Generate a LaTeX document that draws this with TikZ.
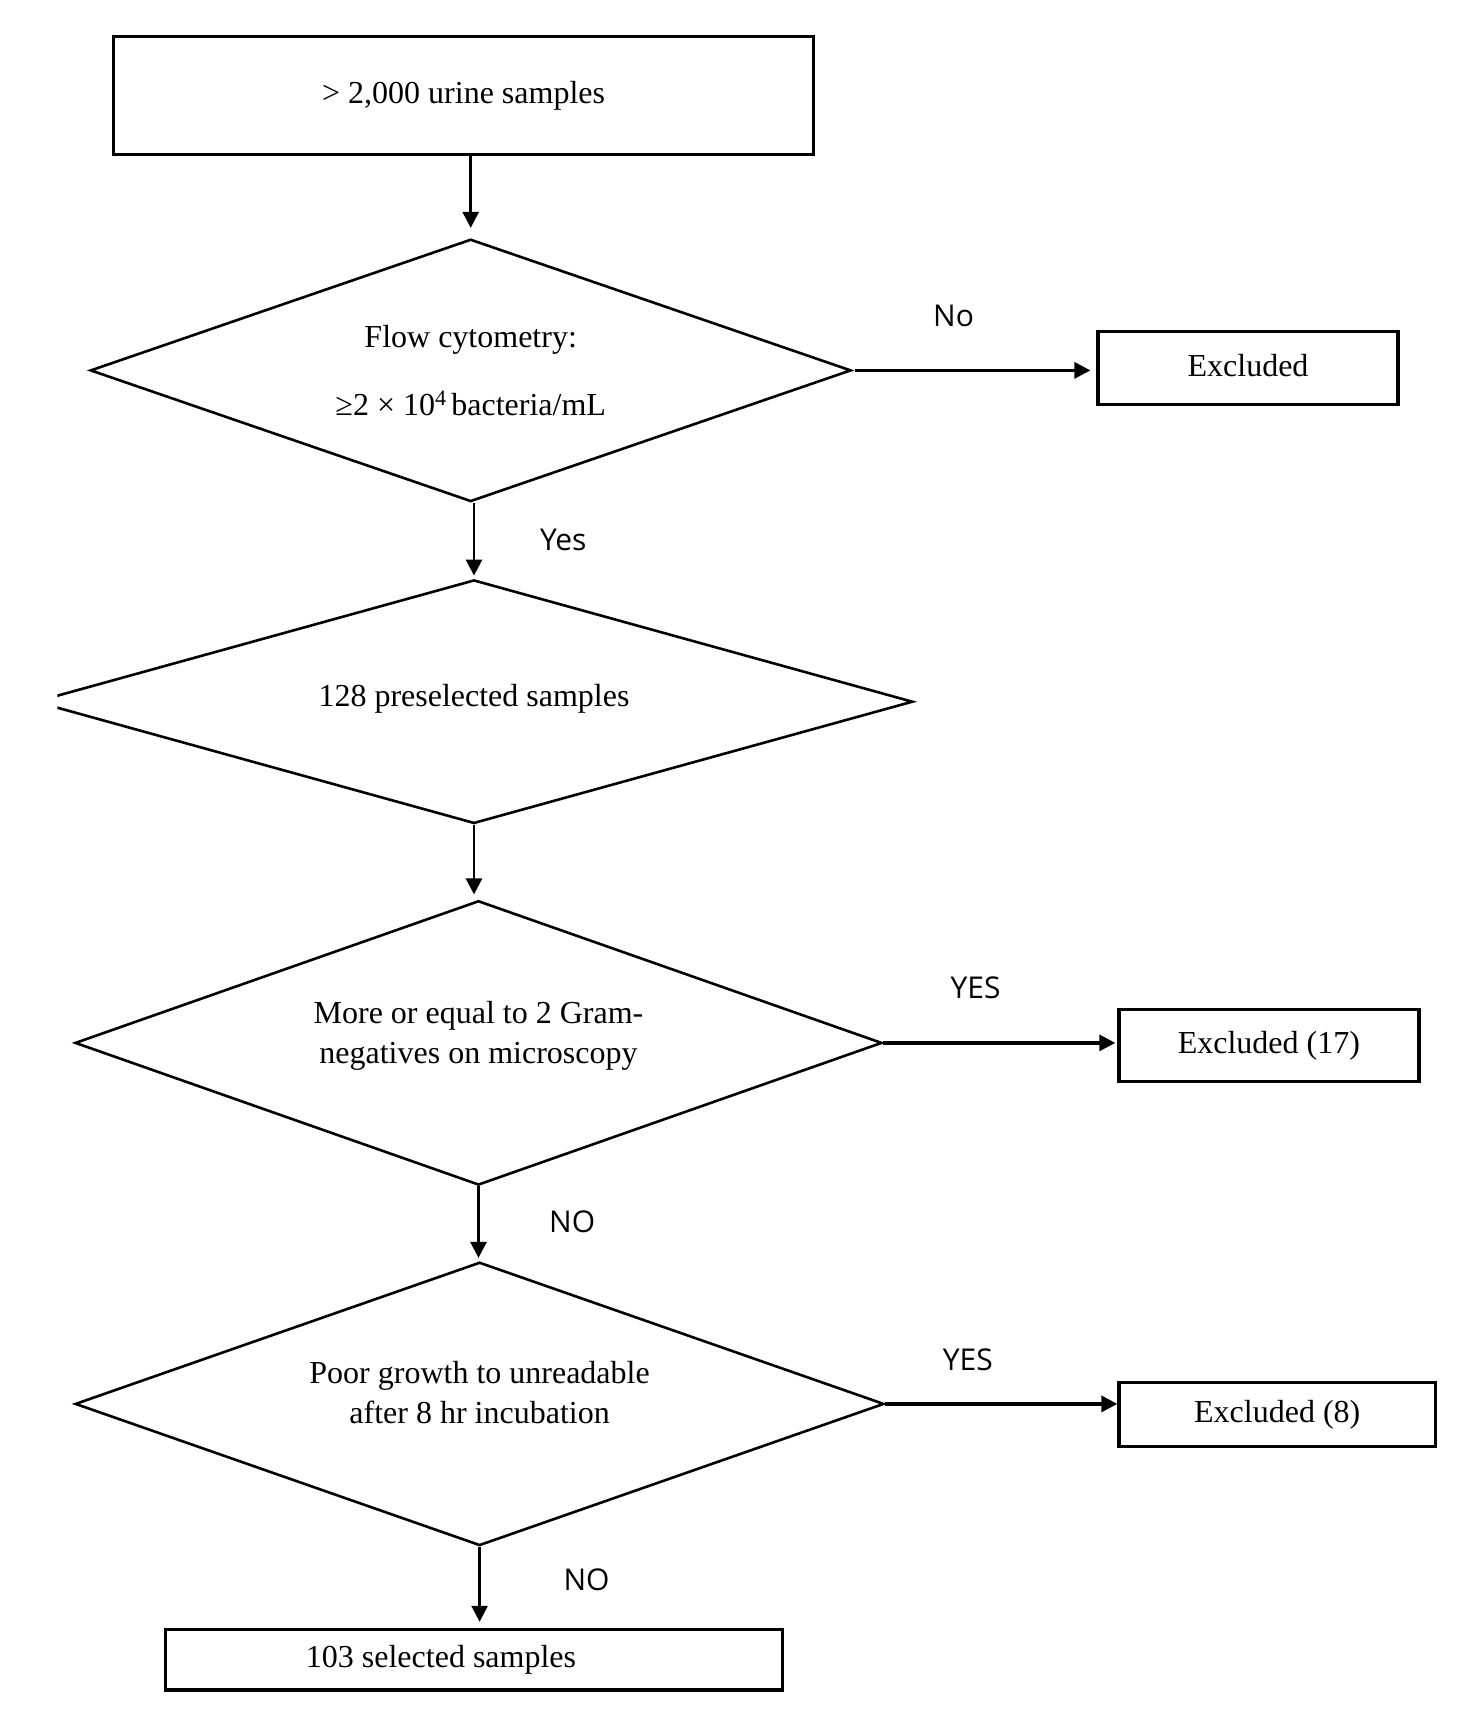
\documentclass[tikz,border=0pt]{standalone}
\usepackage{fontspec}
\setmainfont{Liberation Serif}
\newfontfamily\lblfont{Open Sans}
\usepackage{tikz}
\usetikzlibrary{positioning,shapes.geometric,arrows.meta}

\begin{document}
\begin{tikzpicture}[
    x=0.5pt, y=-0.5pt,
    Sbox/.style={draw, line width=1.6pt, inner sep=0pt, font=\fontsize{16}{20}\selectfont},
    Dbox/.style={draw, shape=diamond, aspect=2.5, line width=1.3pt, inner sep=0pt},
    Dtxt/.style={align=center, inner sep=0pt, font=\fontsize{16}{20}\selectfont},
    vline/.style={-{Triangle[length=8pt, width=8pt]}, line width=1.3pt},
    hline/.style={-{Triangle[length=8pt, width=8pt]}, line width=1.6pt},
    lbl/.style={font=\lblfont\fontsize{15}{18}\selectfont},
]
\useasboundingbox (0,0) rectangle (1464,1728);
% boxes and decisions
\node[Sbox, minimum width=350pt, minimum height=59pt] (urine) at (463.6, 95.4) {\raisebox{-2pt}{> 2,000 urine samples}};
\node[Dbox, minimum width=380.4pt, minimum height=131.2pt,
    label={[Dtxt]center:{Flow cytometry:\\[14pt] ≥2 × 10\raisebox{0.32em}{\fontsize{11}{11}\selectfont 4}\,bacteria/mL}}]
    (flow) at (470.7, 370.4) {};
\node[Sbox, minimum width=150pt, minimum height=36.4pt] (excl) at (1248, 368.2) {\raisebox{3pt}{Excluded}};
\begin{scope}
\clip (57.3,0) rectangle (1464,1728);
\node[Dbox, minimum width=438.8pt, minimum height=121.8pt,
    label={[Dtxt, yshift=1.5pt]center:128 preselected samples}] (presel) at (474, 701.7) {};
\end{scope}
\node[Dbox, minimum width=403.5pt, minimum height=142.2pt,
    label={[Dtxt, yshift=3.6pt]center:{More or equal to 2 Gram-\\negatives on microscopy}}]
    (gram) at (478.5, 1042.9) {};
\node[Sbox, minimum width=150pt, minimum height=35.9pt] (exclgram) at (1268.9, 1045.6) {Excluded (17)};
\node[Dbox, minimum width=404.5pt, minimum height=141.7pt,
    label={[Dtxt, yshift=5.8pt]center:{Poor growth to unreadable\\after 8 hr incubation}}]
    (growth) at (479.6, 1403.9) {};
\node[Sbox, minimum width=158.2pt, minimum height=32pt] (exclgrowth) at (1277.2, 1414.4) {Excluded (8)};
\node[Sbox, minimum width=308.7pt, minimum height=30.3pt] (selected) at (474, 1659.7) {103 selected samples\hspace*{33pt}};

% arrows
\draw[vline, shorten >=5pt] (urine.south -| flow.north) -- (flow.north);
\draw[vline, shorten >=1.5pt] (presel.north |- flow.south) -- (presel.north);
\draw[vline, shorten >=2.5pt] (presel.south) -- (presel.south |- gram.north);
\draw[vline, shorten >=1.5pt] (gram.south) -- (gram.south |- growth.north);
\draw[vline, shorten >=3pt] (growth.south) -- (growth.south |- selected.north);
\draw[hline, shorten <=1.5pt, shorten >=3pt] (flow.east) -- (flow.east -| excl.west);
\draw[hline, shorten >=1pt] (gram.east) -- (gram.east -| exclgram.west);
\draw[hline] (growth.east) -- (growth.east -| exclgrowth.west);

% labels
\node[lbl] (lno) at (953.6, 316.4) {No};
\node[lbl] (lyes) at (563.3, 540.2) {Yes};
\node[lbl] (lyesgram) at (975.6, 987.8) {YES};
\node[lbl] (lnogram) at (572.2, 1221.5) {NO};
\node[lbl] (lyesgrowth) at (967.9, 1359.3) {YES};
\node[lbl] (lnogrowth) at (586.5, 1579.7) {NO};
\end{tikzpicture}
\end{document}
